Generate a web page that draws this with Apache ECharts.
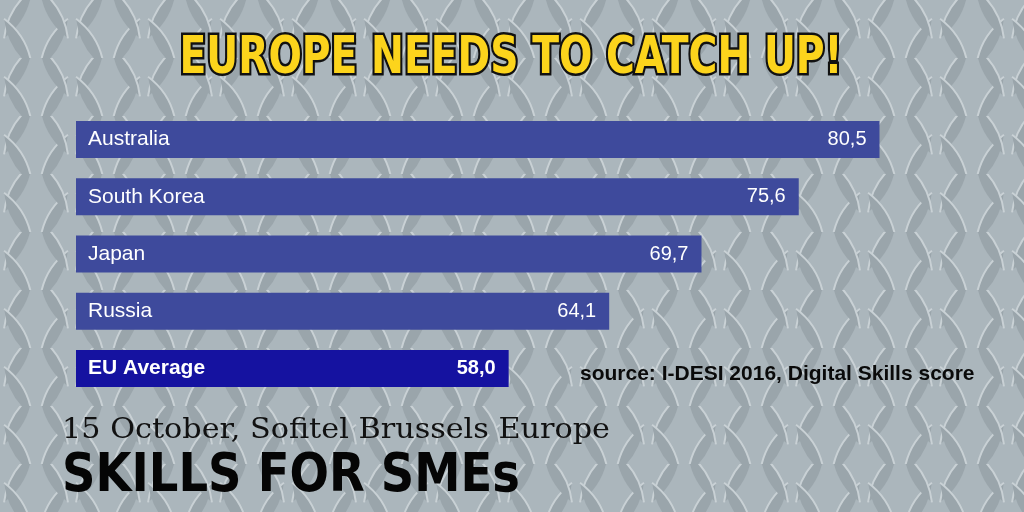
<!DOCTYPE html>
<html>
<head>
<meta charset="utf-8">
<script src="https://cdn.jsdelivr.net/npm/echarts@6/dist/echarts.min.js"></script>
<style>
  html, body { margin: 0; padding: 0; }
  #chart { width: 1024px; height: 512px; }
</style>
</head>
<body>
<div id="chart"></div>
<script>
var countries = ['Australia', 'South Korea', 'Japan', 'Russia', 'EU Average'];
var scores = [80.5, 75.6, 69.7, 64.1, 58.0];
var highlight = 'EU Average';

// metal plate tile for the background
function plateTile() {
    var c = document.createElement('canvas');
    c.width = 72; c.height = 58;
    var g = c.getContext('2d');
    g.fillStyle = '#abb6bc';
    g.fillRect(0, 0, 72, 58);
    function lens(cx, cy, ang) {
        g.save();
        g.translate(cx, cy);
        g.rotate(ang);
        g.beginPath();
        g.moveTo(-28, 0);
        g.quadraticCurveTo(0, -12, 28, 0);
        g.quadraticCurveTo(0, 12, -28, 0);
        g.fillStyle = '#9aa5ab';
        g.fill();
        g.beginPath();
        g.moveTo(-28, 0);
        g.quadraticCurveTo(0, -12, 28, 0);
        g.strokeStyle = '#c9d1d5';
        g.lineWidth = 2;
        g.stroke();
        g.restore();
    }
    lens(18, 14, -1.05);
    lens(54, 43, -1.05);
    lens(54, 14, 1.05);
    lens(18, 43, 1.05);
    return c;
}

function textWidth(txt, font) {
    var g = document.createElement('canvas').getContext('2d');
    g.font = font;
    return g.measureText(txt).width;
}

var chart = echarts.init(document.getElementById('chart'));

var titleFont = 'bold 52px "DejaVu Sans Condensed"';
var titleText = 'EUROPE NEEDS TO CATCH UP!';
var smeFont = 'bold 54px "DejaVu Sans"';
var smeText = 'SKILLS FOR SMEs';
var dateFont = '28px "DejaVu Serif"';
var dateText = '15 October, Sofitel Brussels Europe';

var option = {
    backgroundColor: { image: plateTile(), repeat: 'repeat' },
    animation: false,
    grid: {
        left: 76,
        right: 25,
        top: 111,
        height: 286
    },
    xAxis: {
        type: 'value',
        min: 31.75,
        max: 87.75,
        show: false
    },
    yAxis: {
        type: 'category',
        data: countries,
        inverse: true,
        z: 5,
        axisLine: { show: false },
        axisTick: { show: false },
        splitLine: { show: false },
        axisLabel: {
            inside: true,
            margin: 12,
            formatter: function (v) {
                return v === highlight ? '{b|' + v + '}' : '{n|' + v + '}';
            },
            rich: {
                n: { color: '#ffffff', fontSize: 21, fontFamily: 'Liberation Sans' },
                b: { color: '#ffffff', fontSize: 21, fontWeight: 'bold', fontFamily: 'Liberation Sans' }
            }
        }
    },
    series: [{
        type: 'bar',
        barWidth: 37,
        data: scores.map(function (v, i) {
            var eu = countries[i] === highlight;
            return {
                value: v,
                itemStyle: { color: eu ? '#1512a0' : '#3e4a9c' },
                label: { fontWeight: eu ? 'bold' : 'normal' }
            };
        }),
        label: {
            show: true,
            position: 'insideRight',
            distance: 13,
            color: '#ffffff',
            fontSize: 20,
            fontFamily: 'Liberation Sans',
            formatter: function (p) {
                return p.value.toFixed(1).replace('.', ',');
            }
        }
    }],
    graphic: [
        {
            type: 'text',
            x: 511, y: 59,
            scaleX: 663 / textWidth(titleText, titleFont),
            style: {
                text: titleText,
                font: titleFont,
                fill: '#fcd41c',
                stroke: '#111111',
                lineWidth: 5,
                align: 'center',
                verticalAlign: 'middle',
                shadowColor: '#000000',
                shadowOffsetX: 3,
                shadowOffsetY: 3
            }
        },
        {
            type: 'text',
            x: 580, y: 374,
            style: {
                text: 'source: I-DESI 2016, Digital Skills score',
                font: 'bold 21px "Liberation Sans"',
                fill: '#0a0a0a',
                align: 'left',
                verticalAlign: 'middle'
            }
        },
        {
            type: 'text',
            x: 62, y: 431,
            scaleX: 548 / textWidth(dateText, dateFont),
            style: {
                text: dateText,
                font: dateFont,
                fill: '#111111',
                align: 'left',
                verticalAlign: 'middle'
            }
        },
        {
            type: 'text',
            x: 62, y: 477,
            scaleX: 458 / textWidth(smeText, smeFont),
            style: {
                text: smeText,
                font: smeFont,
                fill: '#050505',
                align: 'left',
                verticalAlign: 'middle'
            }
        }
    ]
};
chart.setOption(option);
</script>
</body>
</html>
